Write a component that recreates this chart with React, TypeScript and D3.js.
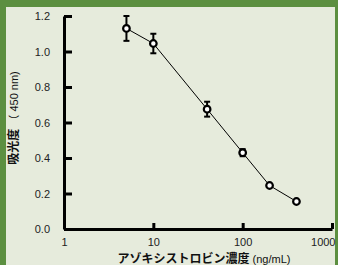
import { useEffect, useRef } from "react";
import * as d3 from "d3";

const width = 338;
const height = 265;
const margin = { top: 16, right: 6, bottom: 36, left: 64 };

// concentration (ng/mL), absorbance at 450 nm, error (± SD)
const concentrations = [5, 10, 40, 100, 200, 400];
const absorbance = [1.13, 1.045, 0.675, 0.43, 0.245, 0.155];
const errors = [0.07, 0.055, 0.042, 0.02, 0, 0];
const yTicks = [0, 0.2, 0.4, 0.6, 0.8, 1.0, 1.2];
const xTicks = [1, 10, 100, 1000];

const App = () => {
  const xAxisRef = useRef<SVGGElement>(null);
  const yAxisRef = useRef<SVGGElement>(null);

  const xScale = d3
    .scaleLog()
    .domain([1, 1000])
    .range([margin.left, width - margin.right]);
  const yScale = d3
    .scaleLinear()
    .domain([0, 1.2])
    .range([height - margin.bottom, margin.top]);

  const points = concentrations.map((c, i) => ({
    x: c,
    y: absorbance[i],
    e: errors[i],
  }));

  const line = d3
    .line<{ x: number; y: number }>()
    .x((d) => xScale(d.x))
    .y((d) => yScale(d.y));

  useEffect(() => {
    if (xAxisRef.current) {
      const xAxis = d3
        .axisBottom(xScale)
        .tickValues(xTicks)
        .tickFormat((d) => String(d))
        .tickSizeInner(-6)
        .tickSizeOuter(0)
        .tickPadding(9);
      const g = d3.select(xAxisRef.current).call(xAxis);
      g.select(".domain").attr("stroke", "#000").attr("stroke-width", 3);
      g.selectAll(".tick line").attr("stroke", "#000").attr("stroke-width", 3);
      g.selectAll<SVGTextElement, number>(".tick text")
        .attr("fill", "#222")
        .attr("font-size", 11)
        .attr("font-family", "Liberation Sans, Arial, sans-serif")
        // last label is pushed in so it ends at the panel edge
        .attr("text-anchor", (d) => (d === 1000 ? "end" : "middle"))
        .attr("x", (d) => (d === 1000 ? 3 : 0));
    }
    if (yAxisRef.current) {
      const yAxis = d3
        .axisLeft(yScale)
        .tickValues(yTicks)
        .tickFormat(d3.format(".1f"))
        .tickSizeInner(-8)
        .tickSizeOuter(0)
        .tickPadding(14);
      const g = d3.select(yAxisRef.current).call(yAxis);
      g.select(".domain").attr("stroke", "#000").attr("stroke-width", 3);
      g.selectAll(".tick line").attr("stroke", "#000").attr("stroke-width", 3);
      g.selectAll(".tick text")
        .attr("fill", "#222")
        .attr("font-size", 11)
        .attr("font-family", "Liberation Sans, Arial, sans-serif");
    }
  }, []);

  return (
    <svg
      width={width}
      height={height}
      style={{ position: "absolute", left: 0, top: 0 }}
    >
      <rect x={0} y={0} width={width} height={height} fill="#5c8f40" />
      <rect x={6} y={7} width={329} height={height - 7} fill="#e6ebdc" />

      <g ref={xAxisRef} transform={`translate(0, ${height - margin.bottom})`} />
      <g ref={yAxisRef} transform={`translate(${margin.left}, 0)`} />

      <path
        d={line(points) ?? undefined}
        fill="none"
        stroke="#000"
        strokeWidth={1}
      />

      {points
        .filter((p) => p.e > 0)
        .map((p, i) => {
          const cx = xScale(p.x);
          const y1 = yScale(p.y + p.e);
          const y2 = yScale(p.y - p.e);
          return (
            <g key={`e${i}`} stroke="#000" strokeWidth={2}>
              <line x1={cx} x2={cx} y1={y1} y2={y2} />
              <line x1={cx - 3} x2={cx + 3} y1={y1} y2={y1} />
              <line x1={cx - 3} x2={cx + 3} y1={y2} y2={y2} />
            </g>
          );
        })}

      {points.map((p, i) => (
        <circle
          key={i}
          cx={xScale(p.x)}
          cy={yScale(p.y)}
          r={3.3}
          fill="#fff"
          stroke="#000"
          strokeWidth={2.2}
        />
      ))}

      <text
        transform={`translate(18, 118) rotate(-90)`}
        textAnchor="middle"
        fontSize={12}
        fill="#111"
        fontFamily="Liberation Sans, 'Noto Sans CJK JP', sans-serif"
      >
        <tspan fontWeight="bold" fontFamily="'Noto Sans CJK JP', sans-serif">
          吸光度
        </tspan>
        <tspan fontSize={11}> （ 450 nm)</tspan>
      </text>

      <text
        x={204}
        y={263}
        textAnchor="middle"
        fontSize={12}
        fill="#111"
        fontFamily="Liberation Sans, 'Noto Sans CJK JP', sans-serif"
      >
        <tspan fontWeight="bold" fontFamily="'Noto Sans CJK JP', sans-serif">
          アゾキシストロビン濃度
        </tspan>
        <tspan fontSize={11}> (ng/mL)</tspan>
      </text>
    </svg>
  );
};

export default App;
